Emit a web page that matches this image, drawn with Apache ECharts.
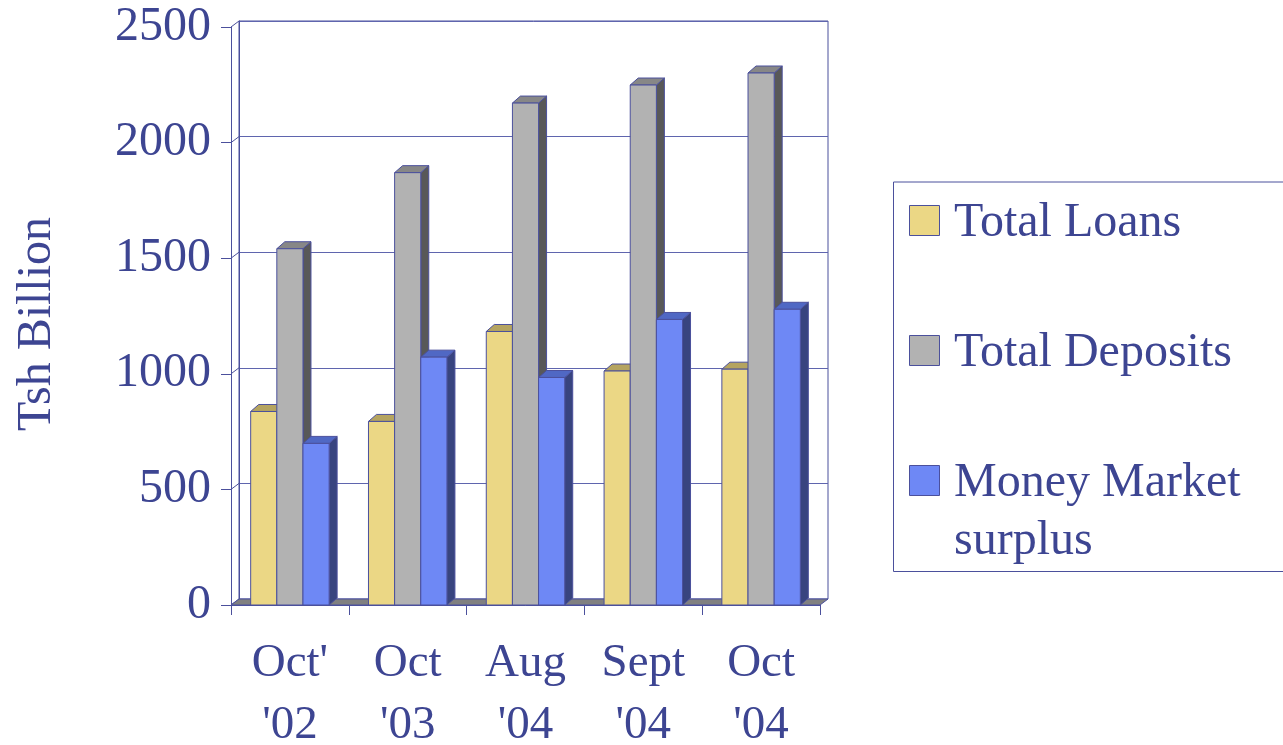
<!DOCTYPE html>
<html>
<head>
<meta charset="utf-8">
<script src="https://cdn.jsdelivr.net/npm/echarts@6/dist/echarts.min.js"></script>
<style>
html,body{margin:0;padding:0;background:#fff;}
#chart{width:1283px;height:745px;}
</style>
</head>
<body>
<div id="chart"></div>
<script>
// ---- data ----
var categories = ["Oct'\n'02", "Oct\n'03", "Aug\n'04", "Sept\n'04", "Oct\n'04"];
var totalLoans = [837, 794, 1183, 1012, 1020];
var totalDeposits = [1541, 1870, 2171, 2249, 2301];
var moneyMarket = [699, 1072, 984, 1235, 1279];
var seriesNames = ['Total Loans', 'Total Deposits', 'Money Market surplus'];
var legendLabels = ['Total Loans', 'Total Deposits', 'Money Market\nsurplus'];
var yTicks = [0, 500, 1000, 1500, 2000, 2500];
var yTitle = 'Tsh Billion';

// ---- styles ----
var FONT = "'Liberation Serif', 'Times New Roman', serif";
var TXT = '#3D4592';
var EDGE = '#4B509C';
var GRIDC = '#5F65AE';
var DX = 8, DY = -6;      // wall depth
var BDX = 8, BDY = -7;    // bar depth
var faces = [
  {front: '#EBD785', top: '#B5A460', side: '#8C7D45'},
  {front: '#B2B2B2', top: '#878787', side: '#585858'},
  {front: '#6E88F5', top: '#5068C4', side: '#38447F'}
];

function barRender(idx) {
  return function (params, api) {
    var cat = api.value(0), v = api.value(1);
    var top = api.coord([cat, v]);
    var base = api.coord([cat, 0]);
    var bw = api.size([1, 0])[0] * 0.222;
    var x0 = top[0] - 1.5 * bw + idx * bw;
    var x1 = x0 + bw;
    var yt = top[1], yb = base[1];
    var f = faces[idx];
    var st = {stroke: EDGE, lineWidth: 1};
    return {
      type: 'group',
      children: [
        {type: 'polygon', shape: {points: [[x1, yb], [x1 + BDX, yb + BDY], [x1 + BDX, yt + BDY], [x1, yt]]},
          style: Object.assign({fill: f.side}, st)},
        {type: 'polygon', shape: {points: [[x0, yt], [x1, yt], [x1 + BDX, yt + BDY], [x0 + BDX, yt + BDY]]},
          style: Object.assign({fill: f.top}, st)},
        {type: 'rect', shape: {x: x0, y: yt, width: bw, height: yb - yt},
          style: Object.assign({fill: f.front}, st)}
      ]
    };
  };
}

function pairs(arr) { return arr.map(function (v, i) { return [i, v]; }); }

// legend drawn as graphic (box, swatches, labels)
var LX = 893, LY = 181.5, LW = 420, LH = 389.5, STEP = 130;
var legendGraphic = [{type: 'rect', left: LX, top: LY, shape: {width: LW, height: LH},
  style: {fill: '#fff', stroke: EDGE, lineWidth: 1}, z: 10}];
legendLabels.forEach(function (lbl, i) {
  var sy = 205.5 + i * STEP;
  legendGraphic.push({type: 'rect', x: 909.5, y: sy, shape: {width: 30, height: 30},
    style: {fill: faces[i].front, stroke: EDGE, lineWidth: 1}, z: 11});
  legendGraphic.push({type: 'text', x: 954, y: sy + 15 - 26,
    style: {text: lbl, fontFamily: FONT, fontSize: 48, fill: TXT, lineHeight: 58,
      align: 'left', verticalAlign: 'top'}, z: 11});
});

var chart = echarts.init(document.getElementById('chart'), null, {renderer: 'canvas'});
var option = {
  animation: false,
  backgroundColor: '#fff',
  grid: [
    {left: 231, top: 27, width: 589, height: 578, show: false, containLabel: false, outerBoundsMode: 'none'},
    {left: 239, top: 21, width: 589, height: 578, show: true, borderColor: EDGE, borderWidth: 1,
      backgroundColor: 'transparent', containLabel: false, outerBoundsMode: 'none'}
  ],
  xAxis: [
    {type: 'category', gridIndex: 0, data: categories,
      axisLine: {show: true, lineStyle: {color: EDGE, width: 1}},
      axisTick: {show: true, length: 10, alignWithLabel: false, lineStyle: {color: EDGE}},
      axisLabel: {fontFamily: FONT, fontSize: 47, color: TXT, lineHeight: 62, margin: 28, interval: 0},
      splitLine: {show: false}, z: 5},
    {type: 'category', gridIndex: 1, data: categories, show: false}
  ],
  yAxis: [
    {type: 'value', gridIndex: 0, min: yTicks[0], max: yTicks[yTicks.length - 1], interval: yTicks[1] - yTicks[0],
      name: yTitle, nameLocation: 'middle', nameGap: 170, nameRotate: 90,
      nameTextStyle: {fontFamily: FONT, fontSize: 48, color: TXT, padding: [0, 16, 0, 0]},
      axisLine: {show: true, lineStyle: {color: EDGE, width: 1}},
      axisTick: {show: true, length: 10, lineStyle: {color: EDGE}},
      axisLabel: {fontFamily: FONT, fontSize: 48, color: TXT, margin: 20,
        formatter: function (v) { return String(v); }},
      splitLine: {show: false}, z: 5},
    {type: 'value', gridIndex: 1, min: yTicks[0], max: yTicks[yTicks.length - 1], interval: yTicks[1] - yTicks[0],
      axisLine: {show: true, lineStyle: {color: EDGE}},
      axisTick: {show: false}, axisLabel: {show: false},
      splitLine: {show: true, lineStyle: {color: GRIDC, width: 1}}}
  ],
  legend: {show: false, data: seriesNames},
  graphic: legendGraphic,
  series: [
    {type: 'custom', name: '_wall', xAxisIndex: 0, yAxisIndex: 0, data: yTicks.map(function (t) { return [0, t]; }),
      renderItem: function (params, api) {
        var cs = params.coordSys;
        var y = api.coord([0, api.value(1)])[1];
        return {type: 'line', shape: {x1: cs.x, y1: y, x2: cs.x + DX, y2: y + DY}, style: {stroke: EDGE, lineWidth: 1}};
      }, silent: true, z: 1},
    {type: 'custom', name: '_floor', xAxisIndex: 0, yAxisIndex: 0, data: [[0, 0]],
      renderItem: function (params, api) {
        var cs = params.coordSys;
        var y = api.coord([0, 0])[1];
        var xl = cs.x, xr = cs.x + cs.width;
        return {type: 'polygon', shape: {points: [[xl, y], [xr, y], [xr + DX, y + DY], [xl + DX, y + DY]]},
          style: {fill: '#808080', stroke: EDGE, lineWidth: 1}};
      }, silent: true, z: 2},
    {type: 'custom', name: seriesNames[0], xAxisIndex: 0, yAxisIndex: 0, data: pairs(totalLoans),
      itemStyle: {color: faces[0].front}, renderItem: barRender(0), z: 3},
    {type: 'custom', name: seriesNames[1], xAxisIndex: 0, yAxisIndex: 0, data: pairs(totalDeposits),
      itemStyle: {color: faces[1].front}, renderItem: barRender(1), z: 3},
    {type: 'custom', name: seriesNames[2], xAxisIndex: 0, yAxisIndex: 0, data: pairs(moneyMarket),
      itemStyle: {color: faces[2].front}, renderItem: barRender(2), z: 3}
  ]
};
chart.setOption(option);
</script>
</body>
</html>
